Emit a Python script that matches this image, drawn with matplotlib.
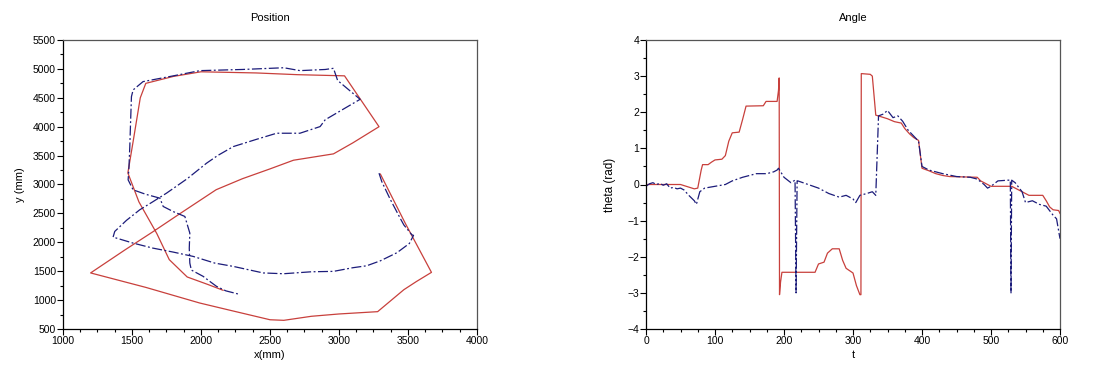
import matplotlib
matplotlib.use("Agg")
import matplotlib.pyplot as plt
from matplotlib.ticker import MultipleLocator

plt.rcParams['font.family'] = ['Liberation Sans', 'DejaVu Sans']

# reference trajectory (red) in mm
ref_x = [3300, 3480, 3670, 3560, 3470, 3280, 3000, 2800, 2600, 2500, 2200, 1990, 1600,
         1200, 1450, 1650, 1850, 2110, 2300, 2500, 2670, 2960, 3100, 3290,
         3040, 2700, 2400, 2000, 1800, 1600, 1560, 1510, 1470, 1550, 1680,
         1770, 1900, 2050, 2160]
ref_y = [3180, 2330, 1480, 1320, 1180, 800, 760, 720, 650, 660, 830, 950, 1220,
         1470, 1870, 2180, 2500, 2910, 3100, 3270, 3420, 3530, 3720, 4000,
         4880, 4900, 4930, 4950, 4870, 4750, 4500, 3770, 3200, 2700, 2150,
         1700, 1400, 1270, 1170]

# estimated trajectory (blue, dashed) in mm
est_x = [3290, 3310, 3370, 3443, 3470, 3528, 3540, 3510, 3420, 3300, 3201, 3100, 2960,
         2800, 2597, 2450, 2234, 2100, 1943, 1800, 1650, 1508, 1363, 1375, 1460,
         1556, 1650, 1750, 1900, 2040, 2120, 2234, 2400, 2548, 2717, 2863, 2900,
         3000, 3153, 3100, 2990, 2960, 2900, 2717, 2600, 2500, 2300, 1992, 1800,
         1580, 1508, 1496, 1490, 1484, 1478, 1472, 1508, 1600, 1702, 1726, 1800,
         1883, 1919, 1915, 1919, 1930, 2016, 2060, 2113, 2180, 2270]
est_y = [3196, 3050, 2750, 2418, 2300, 2130, 2120, 1980, 1820, 1680, 1594, 1560, 1497,
         1490, 1456, 1470, 1583, 1640, 1756, 1830, 1900, 1986, 2090, 2188, 2380,
         2562, 2700, 2850, 3100, 3368, 3500, 3656, 3780, 3887, 3887, 4002, 4120,
         4260, 4474, 4580, 4800, 5010, 4990, 4970, 5020, 5010, 4990, 4970, 4880,
         4780, 4636, 4520, 4100, 3656, 3300, 3080, 2908, 2830, 2764, 2620, 2530,
         2447, 2159, 1900, 1640, 1520, 1410, 1330, 1237, 1160, 1105]

# angle of reference (red)
t_ref = [0, 50, 70, 75, 80, 82, 90, 95, 100, 110, 115, 120, 125, 135, 140, 145,
         170, 174, 190, 192, 193, 193.5, 195, 197, 245, 250, 258, 263, 270, 280,
         285, 290, 300, 305, 310, 311.5, 312, 325, 328, 333, 340, 350, 360, 370,
         375, 382, 388, 395, 400, 410, 420, 430, 440, 480, 485, 495, 500, 530,
         535, 545, 555, 575, 580, 585, 590, 598, 600]
th_ref = [0.0, 0.0, -0.12, -0.1, 0.4, 0.55, 0.55, 0.62, 0.68, 0.7, 0.8, 1.2, 1.43, 1.45, 1.8, 2.17,
          2.18, 2.3, 2.3, 2.6, 2.95, -3.05, -2.7, -2.43, -2.43, -2.2, -2.15, -1.9, -1.78, -1.78,
          -2.1, -2.32, -2.45, -2.8, -3.05, -3.05, 3.07, 3.05, 3.0, 1.92, 1.88, 1.82, 1.74, 1.7,
          1.55, 1.4, 1.3, 1.22, 0.45, 0.38, 0.3, 0.25, 0.22, 0.2, 0.1, 0.0, -0.05, -0.05,
          -0.1, -0.2, -0.3, -0.3, -0.45, -0.62, -0.7, -0.72, -0.8]

# estimated angle (blue, dashed)
t_est = [0, 5, 10, 15, 20, 25, 30, 35, 40, 45, 50, 55, 62, 70, 73, 78, 85, 100,
         115, 125, 140, 150, 160, 175, 185, 190, 192, 200, 210, 216, 217.5, 219,
         220, 235, 250, 265, 280, 290, 300, 304, 310, 320, 328, 333, 337, 344,
         350, 358, 365, 372, 380, 390, 395, 400, 410, 430, 450, 470, 480, 490,
         495, 500, 510, 525, 528, 529, 530, 535, 545, 550, 560, 570, 580, 590,
         595, 600]
th_est = [-0.05, 0.02, 0.05, 0.0, 0.03, -0.02, 0.02, -0.1, -0.08, -0.12, -0.1, -0.15, -0.3, -0.45, -0.55, -0.2,
          -0.1, -0.05, 0.0, 0.1, 0.2, 0.25, 0.3, 0.3, 0.35, 0.4, 0.45, 0.2, 0.05, 0.12, -3.0, 0.1,
          0.1, 0.0, -0.1, -0.25, -0.35, -0.3, -0.4, -0.5, -0.3, -0.25, -0.2, -0.3, 1.9, 1.95,
          2.05, 1.85, 1.9, 1.75, 1.5, 1.3, 1.2, 0.5, 0.4, 0.3, 0.22, 0.2, 0.15, 0.0,
          -0.1, -0.05, 0.1, 0.12, 0.12, -3.0, 0.12, 0.05, -0.2, -0.5, -0.45, -0.55, -0.6, -0.85,
          -0.95, -1.5]

red = '#c8403c'
blue = '#1c1c7a'
dash = (0, (8, 2, 1.5, 2))

fig = plt.figure(figsize=(10.98, 3.67), dpi=100)
ax1 = fig.add_axes([63 / 1098, 38 / 367, 414 / 1098, 289 / 367])
ax2 = fig.add_axes([646 / 1098, 38 / 367, 414 / 1098, 289 / 367])

ax1.plot(ref_x, ref_y, color=red, lw=0.9)
ax1.plot(est_x, est_y, color=blue, lw=0.9, ls=dash)
ax1.set_xlim(1000, 4000)
ax1.set_ylim(500, 5500)
ax1.xaxis.set_major_locator(MultipleLocator(500))
ax1.xaxis.set_minor_locator(MultipleLocator(125))
ax1.yaxis.set_major_locator(MultipleLocator(500))
ax1.yaxis.set_minor_locator(MultipleLocator(250))
ax1.set_title('Position', fontsize=8, pad=14)
ax1.set_xlabel('x(mm)', fontsize=8, labelpad=3)
ax1.set_ylabel('y (mm)', fontsize=8, labelpad=6)

ax2.plot(t_ref, th_ref, color=red, lw=0.9)
ax2.plot(t_est, th_est, color=blue, lw=0.9, ls=dash)
ax2.set_xlim(0, 600)
ax2.set_ylim(-4, 4)
ax2.xaxis.set_major_locator(MultipleLocator(100))
ax2.xaxis.set_minor_locator(MultipleLocator(25))
ax2.yaxis.set_major_locator(MultipleLocator(1))
ax2.yaxis.set_minor_locator(MultipleLocator(0.5))
ax2.set_title('Angle', fontsize=8, pad=14)
ax2.set_xlabel('t', fontsize=8, labelpad=3)
ax2.set_ylabel('theta (rad)', fontsize=8.5, labelpad=8)

for ax in (ax1, ax2):
    ax.tick_params(which='major', direction='out', length=4, width=0.8, labelsize=7.5, pad=1)
    ax.tick_params(which='minor', direction='out', length=2.5, width=0.8)
    ax.tick_params(top=False, right=False, which='both')
    for s in ('top', 'right'):
        ax.spines[s].set_color('#555555')
    for s in ax.spines.values():
        s.set_linewidth(0.9)

fig.savefig('out.png', dpi=100)
